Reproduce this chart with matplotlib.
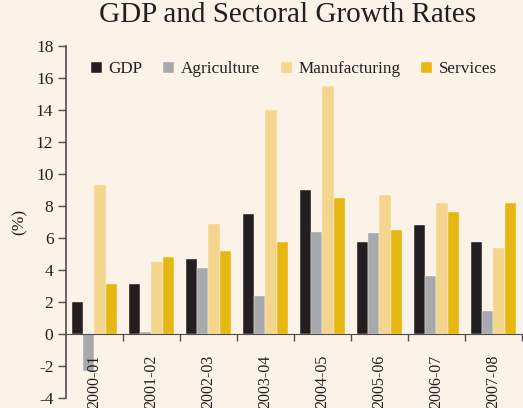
import numpy as np
import matplotlib.pyplot as plt

plt.rcParams['font.family'] = ['Liberation Serif', 'DejaVu Serif']
plt.rcParams['axes.unicode_minus'] = False

years = ["2000-01", "2001-02", "2002-03", "2003-04", "2004-05", "2005-06", "2006-07", "2007-08"]
gdp = [2.0, 3.1, 4.7, 7.5, 9.0, 5.75, 6.8, 5.75]
agriculture = [-2.3, 0.15, 4.1, 2.4, 6.4, 6.3, 3.6, 1.45]
manufacturing = [9.3, 4.5, 6.9, 14.0, 15.5, 8.7, 8.2, 5.4]
services = [3.1, 4.8, 5.2, 5.75, 8.5, 6.5, 7.6, 8.2]

series = [("GDP", gdp, "#231f20"),
          ("Agriculture", agriculture, "#a7a9ac"),
          ("Manufacturing", manufacturing, "#f4d58d"),
          ("Services", services, "#e6b711")]

bg = "#fbf3e7"
txt = "#231f20"

fig = plt.figure(figsize=(5.23, 4.08), dpi=100, facecolor=bg)
ax = fig.add_axes([0.126, 0.0245, 0.872, 0.8625])
ax.set_facecolor(bg)

x = np.arange(len(years))
w = 0.2
for k, (name, vals, col) in enumerate(series):
    ax.bar(x + (k - 1.5) * w, vals, w, color=col, label=name,
           edgecolor="#fbf3e7", linewidth=0.3)

ax.set_xlim(-0.5, len(years) - 0.5)
ax.set_ylim(-4, 18)
ax.set_yticks(np.arange(-4, 19, 2))
ax.tick_params(axis='y', direction='out', length=6, width=1, colors="#4d4d4f",
               labelcolor=txt, labelsize=12.5, pad=3)

# boundaries get tick marks, group centres get the labels
ax.set_xticks(np.arange(0.5, len(years), 1))
ax.set_xticklabels([])
ax.set_xticks(x, minor=True)
ax.set_xticklabels(years, minor=True)
ax.tick_params(axis='x', which='major', direction='out', length=5, width=1, colors="#4d4d4f")
ax.tick_params(axis='x', which='minor', length=0, pad=15, labelrotation=90,
               labelsize=11.5, labelcolor=txt)
for lab in ax.get_xticklabels(minor=True):
    lab.set_va('top')

for s in ['top', 'right']:
    ax.spines[s].set_visible(False)
ax.spines['bottom'].set_position(('data', 0))
ax.spines['bottom'].set_color("#4d4d4f")
ax.spines['left'].set_color("#4d4d4f")
ax.spines['left'].set_linewidth(1.2)

ax.set_ylabel("(%)", fontsize=12.5, color=txt, labelpad=6)

ax.legend(loc='upper center', bbox_to_anchor=(0.5, 1.0), ncol=4, frameon=False,
          fontsize=12.3, handlelength=0.65, handleheight=0.65, handletextpad=0.4,
          columnspacing=1.2, labelcolor=txt)

fig.suptitle("GDP and Sectoral Growth Rates", fontsize=21, color=txt, x=0.55, y=0.995)

plt.savefig("out.png", dpi=100, facecolor=bg)
